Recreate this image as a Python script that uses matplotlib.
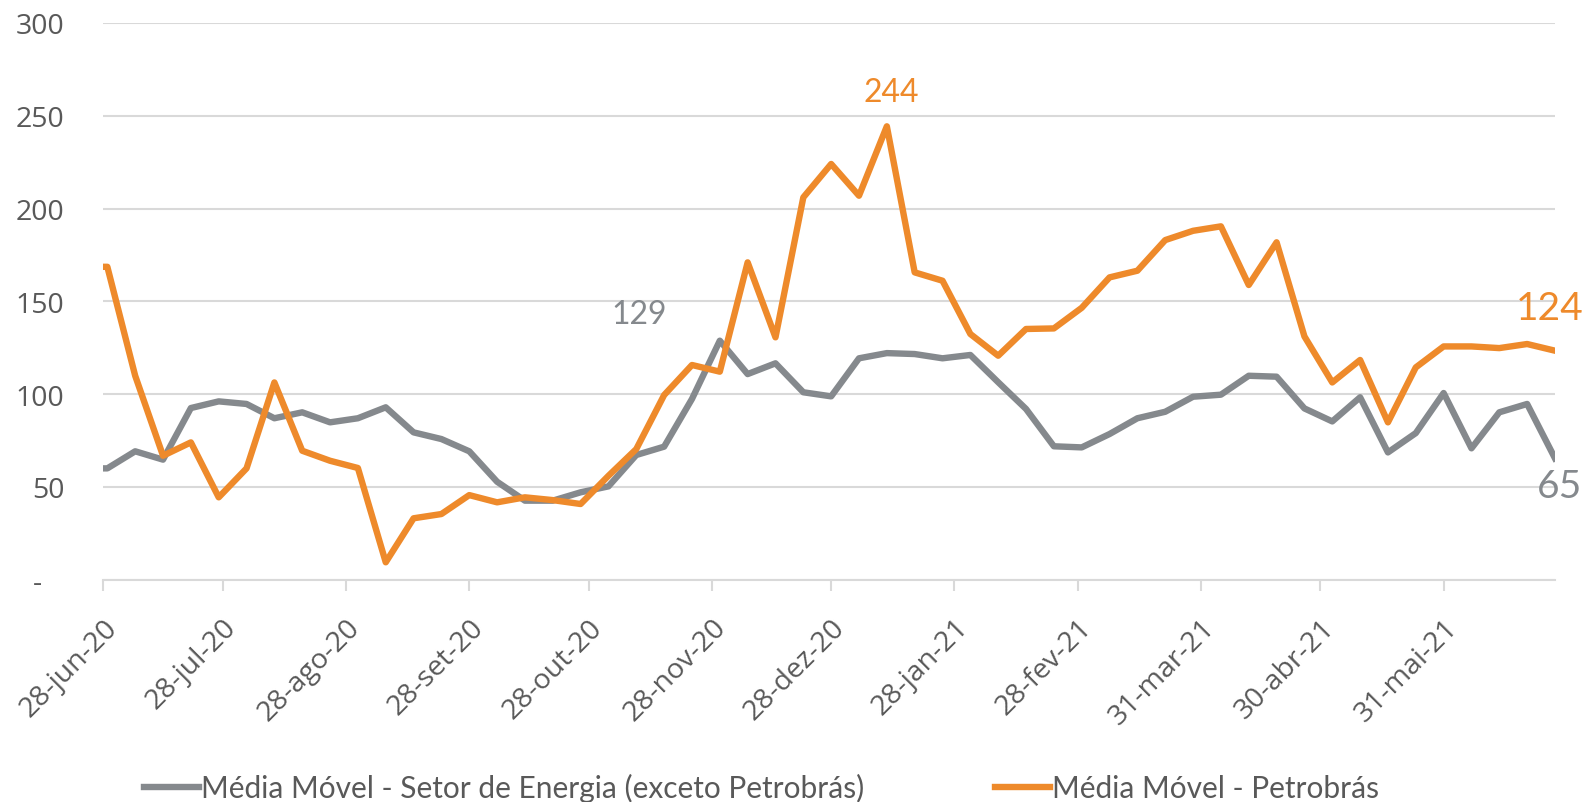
import matplotlib
matplotlib.use("Agg")
import matplotlib.pyplot as plt
import pandas as pd

###############################################################################
# Weekly moving averages
dates = pd.to_datetime(["2020-06-28"]).append(
    pd.date_range("2020-06-29", periods=53, freq="7D"))

energia = [60.0, 60.0, 69.2, 64.7, 92.5, 96.1, 94.7, 87.0, 90.2, 84.8, 87.0,
           92.9, 79.4, 75.8, 69.2, 52.8, 42.6, 42.6, 47.1, 50.3, 67.2, 71.7,
           97.4, 128.8, 110.8, 116.6, 101.0, 98.8, 119.3, 122.1, 121.6, 119.3,
           121.1, 106.4, 92.0, 71.9, 71.3, 78.5, 87.0, 90.5, 98.6, 99.7, 109.9,
           109.4, 92.3, 85.3, 98.3, 68.6, 79.0, 100.6, 70.8, 90.2, 94.7, 65.4]

petrobras = [168.6, 168.6, 109.9, 66.8, 74.0, 44.4, 60.0, 106.3, 69.5, 64.1,
             60.2, 9.4, 33.1, 35.4, 45.6, 41.7, 44.4, 42.9, 40.8, 56.0, 70.4,
             99.5, 115.7, 112.1, 171.0, 130.6, 206.0, 224.0, 206.9, 244.3,
             165.6, 161.1, 132.4, 120.7, 135.1, 135.4, 146.5, 162.9, 166.5,
             183.0, 188.0, 190.4, 158.8, 181.8, 131.1, 106.3, 118.4, 84.8,
             114.4, 125.7, 125.7, 124.8, 127.0, 123.4]

tick_dates = pd.to_datetime(["2020-06-28", "2020-07-28", "2020-08-28",
                             "2020-09-28", "2020-10-28", "2020-11-28",
                             "2020-12-28", "2021-01-28", "2021-02-28",
                             "2021-03-31", "2021-04-30", "2021-05-31"])
tick_labels = ["28-jun-20", "28-jul-20", "28-ago-20", "28-set-20",
               "28-out-20", "28-nov-20", "28-dez-20", "28-jan-21",
               "28-fev-21", "31-mar-21", "30-abr-21", "31-mai-21"]

y_ticks = [0, 50, 100, 150, 200, 250, 300]
y_labels = ["-   ", "50", "100", "150", "200", "250", "300"]

grey = "#85898D"
orange = "#EE8A2B"
text_col = "#595959"
grid_col = "#D9D9D9"

###############################################################################
fig = plt.figure(figsize=(15.83, 8.03), dpi=100)
ax = fig.add_axes([0.0653, 0.2768, 0.9170, 0.6934])

ax.plot(dates, energia, color=grey, lw=4.6, solid_joinstyle="round",
        label="Média Móvel - Setor de Energia (exceto Petrobrás)")
ax.plot(dates, petrobras, color=orange, lw=4.6, solid_joinstyle="round",
        label="Média Móvel - Petrobrás")

ax.set_ylim(0, 300)
ax.set_xlim(pd.Timestamp("2020-06-28"), pd.Timestamp("2021-06-28"))
ax.set_yticks(y_ticks)
ax.set_yticklabels(y_labels, fontsize=20.5, color=text_col, family="Open Sans")
ax.set_xticks(tick_dates)
ax.set_xticklabels(tick_labels, fontsize=20.5, color=text_col,
                   family="Open Sans", rotation=45, ha="right",
                   rotation_mode="anchor")

ax.grid(axis="y", color=grid_col, lw=1.5)
ax.set_axisbelow(True)
for s in ["top", "right", "left"]:
    ax.spines[s].set_visible(False)
ax.spines["bottom"].set_color(grid_col)
ax.spines["bottom"].set_linewidth(1.5)
ax.tick_params(axis="y", length=0, pad=28)
ax.tick_params(axis="x", length=8, width=1.5, color=grid_col, pad=16)

###############################################################################
# Data labels
lab_font = "Lato"
ax.annotate("244", (dates[29], petrobras[29]), xytext=(3, 25),
            textcoords="offset points", ha="center", va="center",
            fontsize=23, color=orange, family=lab_font)
ax.annotate("129", (dates[23], energia[23]), xytext=(-58, 19),
            textcoords="offset points", ha="center", va="center",
            fontsize=23, color=grey, family=lab_font)
ax.annotate("124", (dates[-1], petrobras[-1]), xytext=(-4, 31),
            textcoords="offset points", ha="center", va="center",
            fontsize=28, color=orange, family=lab_font)
ax.annotate("65", (dates[-1], energia[-1]), xytext=(3, -20),
            textcoords="offset points", ha="center", va="center",
            fontsize=28, color=grey, family=lab_font)

###############################################################################
# Legend along the bottom
fig.legend(loc="center", bbox_to_anchor=(0.481, 0.018), ncol=2, frameon=False,
           prop={"family": lab_font, "size": 21.5}, labelcolor=text_col,
           handlelength=1.85, handletextpad=0.05, columnspacing=4.4)

fig.savefig("out.png", dpi=100)
